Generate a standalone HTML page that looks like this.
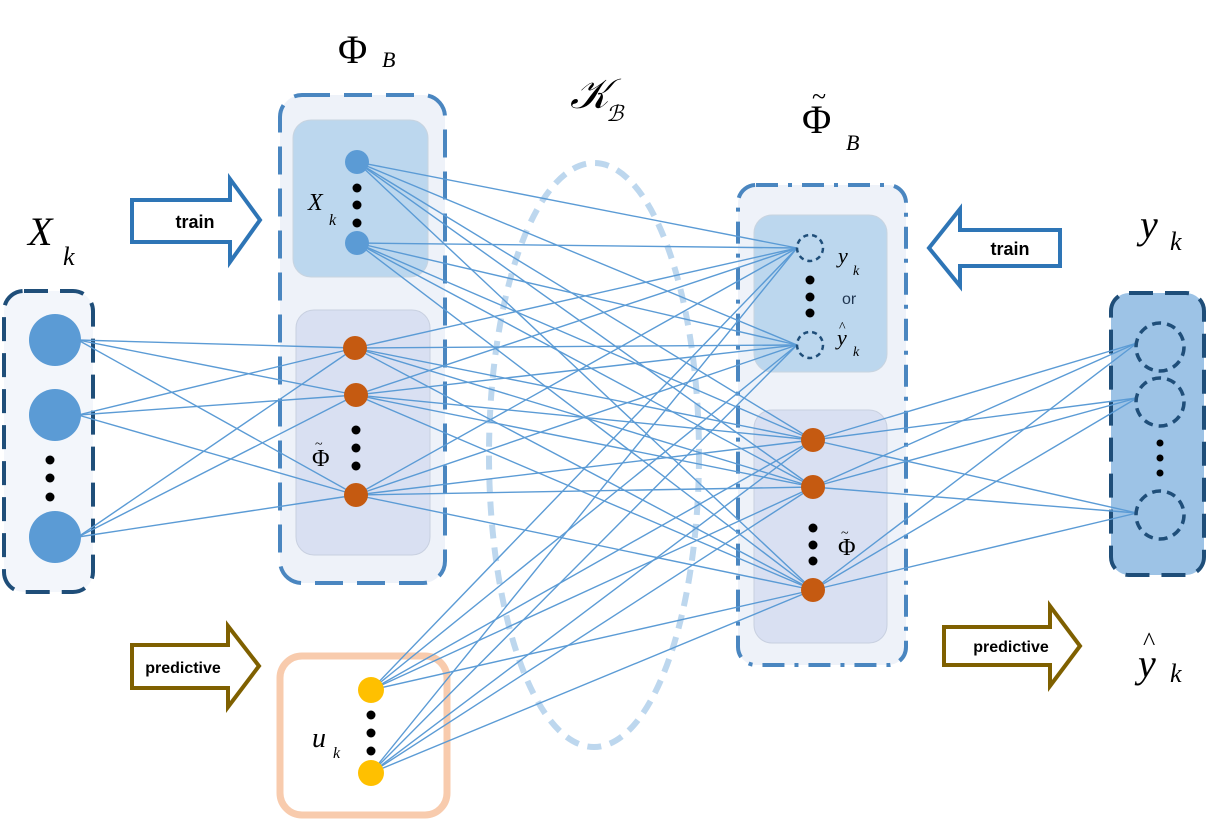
<!DOCTYPE html>
<html><head><meta charset="utf-8"><style>
html,body{margin:0;padding:0;background:#fff;}
svg{display:block;}
.m{font-family:"Liberation Serif",serif;font-style:italic;fill:#000;}
.r{font-family:"Liberation Serif",serif;fill:#000;}
.b{font-family:"Liberation Sans",sans-serif;font-weight:bold;fill:#000;}
</style></head><body>
<svg id="s" width="1206" height="831" viewBox="0 0 1206 831" xmlns="http://www.w3.org/2000/svg">
<rect x="4" y="291" width="89" height="301" rx="20" fill="#f3f6fb" stroke="#1f4e79" stroke-width="4" stroke-dasharray="24,12"/>
<rect x="280" y="95" width="165" height="488" rx="22" fill="#eef2f9" stroke="#4a86c0" stroke-width="4" stroke-dasharray="28,14"/>
<rect x="293" y="120" width="135" height="157" rx="18" fill="#bcd7ee" stroke="#c8d4e0"/>
<rect x="296" y="310" width="134" height="245" rx="18" fill="#d9e0f2" stroke="#c8d0e0"/>
<rect x="738" y="185" width="168" height="480" rx="18" fill="#eef2f9" stroke="#4a86c0" stroke-width="4" stroke-dasharray="22,10,4,10"/>
<rect x="754" y="215" width="133" height="157" rx="18" fill="#bcd7ee" stroke="#c8d4e0"/>
<rect x="754" y="410" width="133" height="233" rx="18" fill="#d9e0f2" stroke="#c8d0e0"/>
<rect x="1111" y="293" width="93" height="282" rx="18" fill="#9dc3e6" stroke="#1f4e79" stroke-width="4" stroke-dasharray="24,12"/>
<rect x="280" y="656" width="167" height="159" rx="22" fill="#fff" stroke="#f8cbad" stroke-width="7"/>
<ellipse cx="594" cy="455" rx="105" ry="292" fill="none" stroke="#bdd7ee" stroke-width="6" stroke-dasharray="14,9"/>
<g id="lines" stroke="#5b9bd5" stroke-width="1.4"></g>
<g fill="#5b9bd5">
<circle cx="55" cy="340" r="26"/><circle cx="55" cy="415" r="26"/><circle cx="55" cy="537" r="26"/>
<circle cx="357" cy="162" r="12"/><circle cx="357" cy="243" r="12"/>
</g>
<g fill="#c55a11">
<circle cx="355" cy="348" r="12"/><circle cx="356" cy="395" r="12"/><circle cx="356" cy="495" r="12"/>
<circle cx="813" cy="440" r="12"/><circle cx="813" cy="487" r="12"/><circle cx="813" cy="590" r="12"/>
</g>
<g fill="#ffc000"><circle cx="371" cy="690" r="13"/><circle cx="371" cy="773" r="13"/></g>
<g fill="none" stroke="#1f4e79" stroke-width="2.5" stroke-dasharray="5,4">
<circle cx="810" cy="248" r="13"/><circle cx="810" cy="345" r="13"/>
</g>
<g fill="none" stroke="#1f4e79" stroke-width="3.5" stroke-dasharray="9,6">
<circle cx="1160" cy="347" r="24"/><circle cx="1160" cy="402" r="24"/><circle cx="1160" cy="515" r="24"/>
</g>
<g fill="#000">
<circle cx="50" cy="460" r="4.5"/><circle cx="50" cy="478" r="4.5"/><circle cx="50" cy="497" r="4.5"/>
<circle cx="357" cy="188" r="4.5"/><circle cx="357" cy="205" r="4.5"/><circle cx="357" cy="223" r="4.5"/>
<circle cx="356" cy="430" r="4.5"/><circle cx="356" cy="448" r="4.5"/><circle cx="356" cy="466" r="4.5"/>
<circle cx="810" cy="280" r="4.5"/><circle cx="810" cy="297" r="4.5"/><circle cx="810" cy="313" r="4.5"/>
<circle cx="813" cy="528" r="4.5"/><circle cx="813" cy="545" r="4.5"/><circle cx="813" cy="561" r="4.5"/>
<circle cx="371" cy="715" r="4.5"/><circle cx="371" cy="733" r="4.5"/><circle cx="371" cy="751" r="4.5"/>
<circle cx="1160" cy="443" r="3.5"/><circle cx="1160" cy="458" r="3.5"/><circle cx="1160" cy="473" r="3.5"/>
</g>
<path d="M132,200 L230,200 L230,179 L260,220 L230,262 L230,242 L132,242 Z" fill="#fff" stroke="#2e75b6" stroke-width="4"/>
<text x="195" y="228" class="b" font-size="18" text-anchor="middle">train</text>
<path d="M1060,230 L960,230 L960,209 L929,248 L960,286 L960,266 L1060,266 Z" fill="#fff" stroke="#2e75b6" stroke-width="4"/>
<text x="1010" y="255" class="b" font-size="18" text-anchor="middle">train</text>
<path d="M132,645 L228,645 L228,626 L259,666 L228,707 L228,688 L132,688 Z" fill="#fff" stroke="#7f6000" stroke-width="4"/>
<text x="183" y="673" class="b" font-size="16" text-anchor="middle">predictive</text>
<path d="M944,627 L1050,627 L1050,606 L1080,646 L1050,686 L1050,665 L944,665 Z" fill="#fff" stroke="#7f6000" stroke-width="4"/>
<text x="1011" y="652" class="b" font-size="16" text-anchor="middle">predictive</text>
<text x="28" y="245" class="m" font-size="40">X</text><text x="63" y="265" class="m" font-size="26">k</text>
<text x="338" y="63" class="r" font-size="40">Φ</text><text x="382" y="67" class="m" font-size="22">B</text>
<text x="570" y="108" class="m" font-size="42">𝒦</text><text x="606" y="121" class="m" font-size="22">ℬ</text>
<text x="802" y="133" class="r" font-size="40">Φ</text><text x="812" y="105" class="r" font-size="26">~</text><text x="846" y="150" class="m" font-size="22">B</text>
<text x="1140" y="238" class="m" font-size="40">y</text><text x="1170" y="250" class="m" font-size="26">k</text>
<text x="1138" y="677" class="m" font-size="40">y</text><text x="1143" y="650" class="r" font-size="26">^</text><text x="1170" y="682" class="m" font-size="26">k</text>
<text x="308" y="210" class="m" font-size="24">X</text><text x="329" y="225" class="m" font-size="16">k</text>
<text x="312" y="466" class="r" font-size="24">Φ</text><text x="315" y="448" class="r" font-size="14">~</text>
<text x="838" y="555" class="r" font-size="24">Φ</text><text x="841" y="537" class="r" font-size="14">~</text>
<text x="838" y="263" class="m" font-size="22">y</text><text x="853" y="275" class="m" font-size="14">k</text>
<text x="842" y="304" font-family="Liberation Sans,sans-serif" font-size="16" fill="#1f3550">or</text>
<text x="837" y="345" class="m" font-size="22">y</text><text x="839" y="331" class="r" font-size="14">^</text><text x="853" y="356" class="m" font-size="14">k</text>
<text x="312" y="747" class="m" font-size="28">u</text><text x="333" y="758" class="m" font-size="16">k</text>
</svg>
<script>
var g=document.getElementById('lines');
function L(a,b){for(var i=0;i<a.length;i++)for(var j=0;j<b.length;j++){var l=document.createElementNS('http://www.w3.org/2000/svg','line');l.setAttribute('x1',a[i][0]);l.setAttribute('y1',a[i][1]);l.setAttribute('x2',b[j][0]);l.setAttribute('y2',b[j][1]);g.appendChild(l);}}
var left=[[78,340],[78,415],[78,537]];
var orL=[[355,348],[356,395],[356,495]];
var mid=[[357,162],[357,243]].concat(orL);
var rt=[[797,248],[797,345],[813,440],[813,487],[813,590]];
var u=[[371,690],[371,773]];
var orR=[[813,440],[813,487],[813,590]];
var yk=[[1137,343],[1137,398],[1137,513]];
L(left,orL);L(mid,rt);L(u,rt);L(orR,yk);
</script>
</body></html>
